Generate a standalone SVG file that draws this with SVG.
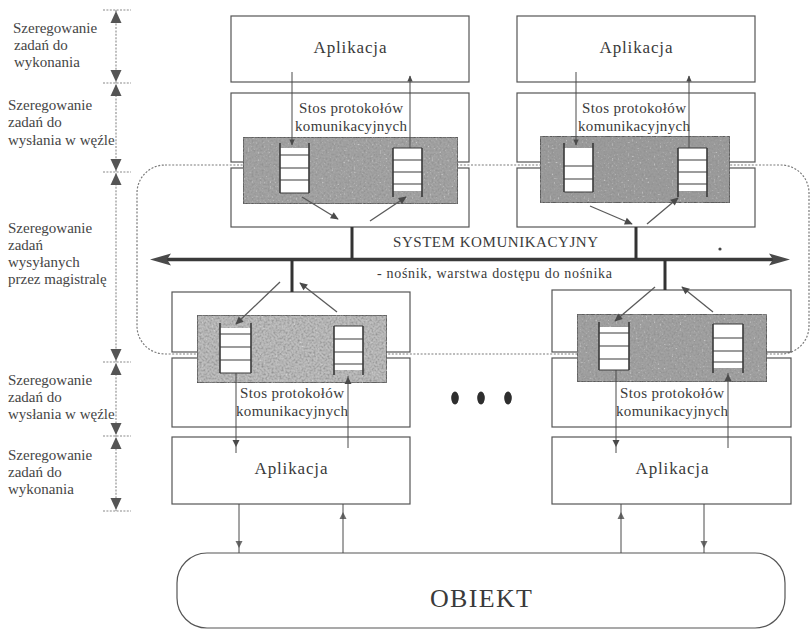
<svg xmlns="http://www.w3.org/2000/svg" xmlns:xlink="http://www.w3.org/1999/xlink" width="811" height="631" viewBox="0 0 811 631">
  <defs>
    <style>
      .box { fill: #fff; stroke: #555; stroke-width: 1.2; }
      .gray { stroke: #4a4a4a; stroke-width: 1.6; filter: url(#grain); }
      .qf { fill: #fff; stroke: none; }
      .qs { stroke: #3a3a3a; stroke-width: 1.6; fill: none; }
      .ql { stroke: #3a3a3a; stroke-width: 1.2; fill: none; }
      .conn { stroke: #4a4a4a; stroke-width: 1; fill: none; }
      .diag { stroke: #5a5a5a; stroke-width: 1.3; fill: none; }
      .stem { stroke: #333; stroke-width: 3; fill: none; }
      .bus { stroke: #3a3a3a; stroke-width: 3.5; fill: none; }
      .dotted { stroke: #7a7a7a; stroke-width: 1.2; stroke-dasharray: 2 1.6; fill: none; }
      .dim { stroke: #8a8a8a; stroke-width: 1.1; stroke-dasharray: 2 1.4; fill: none; }
      .head { fill: #4a4a4a; }
      .dimhead { fill: #555; }
      text { font-family: "Liberation Serif", "Times New Roman", serif; fill: #3a3a3a; }
      .lbl { font-size: 15px; fill: #454545; }
      .app { font-size: 17px; text-anchor: middle; }
      .stk { font-size: 15px; text-anchor: middle; }
    </style>
    <!-- mottled texture for the queue panels -->
    <filter id="grain" x="0" y="0" width="100%" height="100%">
      <feTurbulence type="fractalNoise" baseFrequency="0.5" numOctaves="2" seed="7" result="n"/>
      <feColorMatrix in="n" type="matrix" values="0 0 0 0 0.28  0 0 0 0 0.28  0 0 0 0 0.28  2.2 0 0 0 -0.85" result="dark"/>
      <feColorMatrix in="n" type="matrix" values="0 0 0 0 0.9  0 0 0 0 0.9  0 0 0 0 0.9  0 -2.2 0 0 0.75" result="light"/>
      <feComposite in="dark" in2="SourceGraphic" operator="in" result="darkIn"/>
      <feComposite in="light" in2="SourceGraphic" operator="in" result="lightIn"/>
      <feMerge>
        <feMergeNode in="SourceGraphic"/>
        <feMergeNode in="darkIn"/>
        <feMergeNode in="lightIn"/>
      </feMerge>
    </filter>
    <marker id="ah" viewBox="0 0 10 10" refX="9" refY="5" markerWidth="9" markerHeight="8" markerUnits="userSpaceOnUse" orient="auto">
      <path d="M0,0.5 L10,5 L0,9.5 z" fill="#4a4a4a"/>
    </marker>
    <marker id="ahs" viewBox="0 0 10 10" refX="9" refY="5" markerWidth="7" markerHeight="6" markerUnits="userSpaceOnUse" orient="auto">
      <path d="M0,0.5 L10,5 L0,9.5 z" fill="#4a4a4a"/>
    </marker>
    <path id="tri" d="M0,0 L-3.5,-7 L3.5,-7 z"/>
    <path id="dtri" d="M0,0 L-5.5,-12 L5.5,-12 z"/>
  </defs>

  <rect width="811" height="631" fill="#fff"/>

  <!-- scheduling scale on the left -->
  <g id="scale">
    <line class="dim" x1="116" y1="10" x2="116" y2="511"/>
    <g class="dim">
      <line x1="103" y1="10" x2="131" y2="10"/>
      <line x1="103" y1="83" x2="131" y2="83"/>
      <line x1="103" y1="172" x2="131" y2="172"/>
      <line x1="103" y1="362" x2="131" y2="362"/>
      <line x1="103" y1="436" x2="131" y2="436"/>
      <line x1="103" y1="511" x2="131" y2="511"/>
    </g>
    <g class="dimhead">
      <use xlink:href="#dtri" transform="translate(116,11) rotate(180)"/>
      <use xlink:href="#dtri" transform="translate(116,82)"/>
      <use xlink:href="#dtri" transform="translate(116,84) rotate(180)"/>
      <use xlink:href="#dtri" transform="translate(116,171)"/>
      <use xlink:href="#dtri" transform="translate(116,173) rotate(180)"/>
      <use xlink:href="#dtri" transform="translate(116,361)"/>
      <use xlink:href="#dtri" transform="translate(116,363) rotate(180)"/>
      <use xlink:href="#dtri" transform="translate(116,435)"/>
      <use xlink:href="#dtri" transform="translate(116,437) rotate(180)"/>
      <use xlink:href="#dtri" transform="translate(116,510)"/>
    </g>
    <text class="lbl" x="13" y="33">Szeregowanie</text>
    <text class="lbl" x="14" y="50">zadań do</text>
    <text class="lbl" x="14" y="67">wykonania</text>

    <text class="lbl" x="8" y="110">Szeregowanie</text>
    <text class="lbl" x="8" y="127">zadań do</text>
    <text class="lbl" x="8" y="145">wysłania w węźle</text>

    <text class="lbl" x="8" y="233">Szeregowanie</text>
    <text class="lbl" x="8" y="250">zadań</text>
    <text class="lbl" x="8" y="267">wysyłanych</text>
    <text class="lbl" x="8" y="284">przez magistralę</text>

    <text class="lbl" x="8" y="385">Szeregowanie</text>
    <text class="lbl" x="8" y="402">zadań do</text>
    <text class="lbl" x="8" y="419">wysłania w węźle</text>

    <text class="lbl" x="8" y="460">Szeregowanie</text>
    <text class="lbl" x="8" y="477">zadań do</text>
    <text class="lbl" x="8" y="494">wykonania</text>
  </g>

  <!-- bus scheduling domain -->
  <rect id="bus-domain" class="dotted" x="137" y="165" width="672" height="189" rx="28" ry="28"/>

  <!-- upper left station -->
  <g id="app-top-left">
    <rect class="box" x="231" y="16" width="238" height="66"/>
    <text class="app" x="350" y="53" textLength="73" lengthAdjust="spacing">Aplikacja</text>
  </g>
  <g id="stack-top-left">
    <rect class="box" x="231" y="93" width="238" height="69"/>
    <rect class="box" x="231" y="168" width="238" height="59"/>
    <text class="stk" x="351" y="113" textLength="104" lengthAdjust="spacing">Stos protokołów</text>
    <text class="stk" x="351" y="131" textLength="112" lengthAdjust="spacing">komunikacyjnych</text>
    <rect class="gray" x="243" y="137" width="215" height="67" fill="#a4a4a4"/>
    <rect class="qf" x="280" y="148" width="29" height="45"/>
    <path class="qs" d="M280,143 V193 M309,143 V193"/>
    <path class="ql" d="M280,155 H309 M280,168 H309 M280,180 H309 M280,193 H309"/>
    <rect class="qf" x="393" y="148" width="29" height="43"/>
    <path class="qs" d="M393,148 V197 M422,148 V197"/>
    <path class="ql" d="M393,148 H422 M393,160 H422 M393,172 H422 M393,184 H422"/>
  </g>

  <!-- upper right station -->
  <g id="app-top-right">
    <rect class="box" x="517" y="16" width="238" height="66"/>
    <text class="app" x="636" y="53" textLength="73" lengthAdjust="spacing">Aplikacja</text>
  </g>
  <g id="stack-top-right">
    <rect class="box" x="517" y="93" width="238" height="69"/>
    <rect class="box" x="517" y="168" width="238" height="59"/>
    <text class="stk" x="634" y="113" textLength="104" lengthAdjust="spacing">Stos protokołów</text>
    <text class="stk" x="634" y="131" textLength="112" lengthAdjust="spacing">komunikacyjnych</text>
    <rect class="gray" x="540" y="136" width="190" height="67" fill="#9c9c9c"/>
    <rect class="qf" x="564" y="148" width="29" height="44"/>
    <path class="qs" d="M564,143 V192 M593,143 V192"/>
    <path class="ql" d="M564,166 H593 M564,179 H593 M564,192 H593"/>
    <rect class="qf" x="678" y="148" width="29" height="43"/>
    <path class="qs" d="M678,148 V197 M707,148 V197"/>
    <path class="ql" d="M678,148 H707 M678,160 H707 M678,172 H707 M678,184 H707"/>
  </g>

  <!-- lower left station -->
  <g id="stack-bottom-left">
    <rect class="box" x="172" y="292" width="238" height="60"/>
    <rect class="box" x="172" y="358" width="238" height="69"/>
    <text class="stk" x="292" y="398" textLength="104" lengthAdjust="spacing">Stos protokołów</text>
    <text class="stk" x="292" y="416" textLength="112" lengthAdjust="spacing">komunikacyjnych</text>
    <rect class="gray" x="197" y="315" width="190" height="68" fill="#bdbdbd"/>
    <rect class="qf" x="220" y="328" width="31" height="45"/>
    <path class="qs" d="M220,323 V373 M251,323 V373"/>
    <path class="ql" d="M220,334 H251 M220,347 H251 M220,360 H251 M220,373 H251"/>
    <rect class="qf" x="334" y="326" width="29" height="44"/>
    <path class="qs" d="M334,326 V375 M363,326 V375"/>
    <path class="ql" d="M334,326 H363 M334,339 H363 M334,352 H363 M334,364 H363"/>
  </g>
  <g id="app-bottom-left">
    <rect class="box" x="172" y="437" width="238" height="67"/>
    <text class="app" x="291" y="474" textLength="73" lengthAdjust="spacing">Aplikacja</text>
  </g>

  <!-- lower right station -->
  <g id="stack-bottom-right">
    <rect class="box" x="552" y="290" width="239" height="62"/>
    <rect class="box" x="552" y="358" width="239" height="69"/>
    <text class="stk" x="672" y="398" textLength="104" lengthAdjust="spacing">Stos protokołów</text>
    <text class="stk" x="672" y="416" textLength="112" lengthAdjust="spacing">komunikacyjnych</text>
    <rect class="gray" x="577" y="314" width="190" height="68" fill="#a2a2a2"/>
    <rect class="qf" x="599" y="327" width="30" height="43"/>
    <path class="qs" d="M599,322 V370 M629,322 V370"/>
    <path class="ql" d="M599,333 H629 M599,346 H629 M599,359 H629 M599,370 H629"/>
    <rect class="qf" x="713" y="324" width="30" height="44"/>
    <path class="qs" d="M713,324 V373 M743,324 V373"/>
    <path class="ql" d="M713,324 H743 M713,338 H743 M713,351 H743 M713,362 H743"/>
  </g>
  <g id="app-bottom-right">
    <rect class="box" x="552" y="437" width="239" height="67"/>
    <text class="app" x="672" y="474" textLength="73" lengthAdjust="spacing">Aplikacja</text>
  </g>

  <!-- ellipsis between stations -->
  <g id="more-stations" fill="#2e2e2e">
    <ellipse cx="455" cy="398" rx="3.8" ry="6.5"/>
    <ellipse cx="481" cy="398" rx="3.8" ry="6.5"/>
    <ellipse cx="508" cy="398" rx="3.8" ry="6.5"/>
  </g>

  <!-- controlled object -->
  <g id="obiekt">
    <rect class="box" x="177" y="553" width="608" height="75" rx="30" ry="30"/>
    <text x="481" y="607" font-size="26" text-anchor="middle" textLength="102" lengthAdjust="spacing">OBIEKT</text>
  </g>

  <!-- communication system -->
  <g id="system">
    <text x="393" y="247" font-size="15" textLength="205" lengthAdjust="spacing">SYSTEM KOMUNIKACYJNY</text>
    <text x="377" y="278" font-size="14" textLength="235" lengthAdjust="spacing">- nośnik, warstwa dostępu do nośnika</text>
    <circle cx="720" cy="249" r="1.6" fill="#444"/>
  </g>

  <g id="connectors">
    <!-- bus -->
    <line class="bus" x1="160" y1="259.5" x2="780" y2="259.5"/>
    <path class="head" d="M150,259.5 L171,253.5 L167,259.5 L171,265.5 z"/>
    <path class="head" d="M790,259.5 L769,253.5 L773,259.5 L769,265.5 z"/>
    <!-- stems -->
    <line class="stem" x1="352" y1="227" x2="352" y2="259"/>
    <line class="stem" x1="636" y1="227" x2="636" y2="259"/>
    <line class="stem" x1="292" y1="260" x2="292" y2="292"/>
    <line class="stem" x1="665" y1="260" x2="665" y2="290"/>

    <!-- queues to/from bus -->
    <line class="diag" x1="302" y1="197" x2="338" y2="219" marker-end="url(#ah)"/>
    <line class="diag" x1="370" y1="221" x2="406" y2="197" marker-end="url(#ah)"/>
    <line class="diag" x1="590" y1="206" x2="632" y2="224" marker-end="url(#ah)"/>
    <line class="diag" x1="647" y1="224" x2="678" y2="198" marker-end="url(#ah)"/>
    <line class="diag" x1="280" y1="282" x2="236" y2="324" marker-end="url(#ah)"/>
    <line class="diag" x1="337" y1="312" x2="300" y2="283" marker-end="url(#ah)"/>
    <line class="diag" x1="655" y1="287" x2="615" y2="321" marker-end="url(#ah)"/>
    <line class="diag" x1="713" y1="312" x2="682" y2="287" marker-end="url(#ah)"/>

    <!-- application to stack, upper stations -->
    <line class="conn" x1="292" y1="72" x2="292" y2="145" marker-end="url(#ahs)"/>
    <line class="conn" x1="410" y1="148" x2="410" y2="76" marker-end="url(#ahs)"/>
    <line class="conn" x1="576" y1="72" x2="576" y2="145" marker-end="url(#ahs)"/>
    <line class="conn" x1="689" y1="148" x2="689" y2="76" marker-end="url(#ahs)"/>

    <!-- stack to application, lower stations -->
    <path class="conn" d="M236,373 V453"/>
    <path class="conn" d="M348,448 V376"/>
    <path class="conn" d="M616,370 V453"/>
    <path class="conn" d="M728,448 V373"/>
    <g class="head">
      <use xlink:href="#tri" transform="translate(236,447)"/>
      <use xlink:href="#tri" transform="translate(348,377) rotate(180)"/>
      <use xlink:href="#tri" transform="translate(616,447)"/>
      <use xlink:href="#tri" transform="translate(728,374) rotate(180)"/>
    </g>

    <!-- applications and the object -->
    <path class="conn" d="M239,504 V553"/>
    <path class="conn" d="M343,553 V504"/>
    <path class="conn" d="M621,553 V504"/>
    <path class="conn" d="M704,504 V553"/>
    <g class="head" opacity="0.8">
      <use xlink:href="#tri" transform="translate(239,548)"/>
      <use xlink:href="#tri" transform="translate(343,512) rotate(180)"/>
      <use xlink:href="#tri" transform="translate(621,512) rotate(180)"/>
      <use xlink:href="#tri" transform="translate(704,548)"/>
    </g>
  </g>
</svg>
